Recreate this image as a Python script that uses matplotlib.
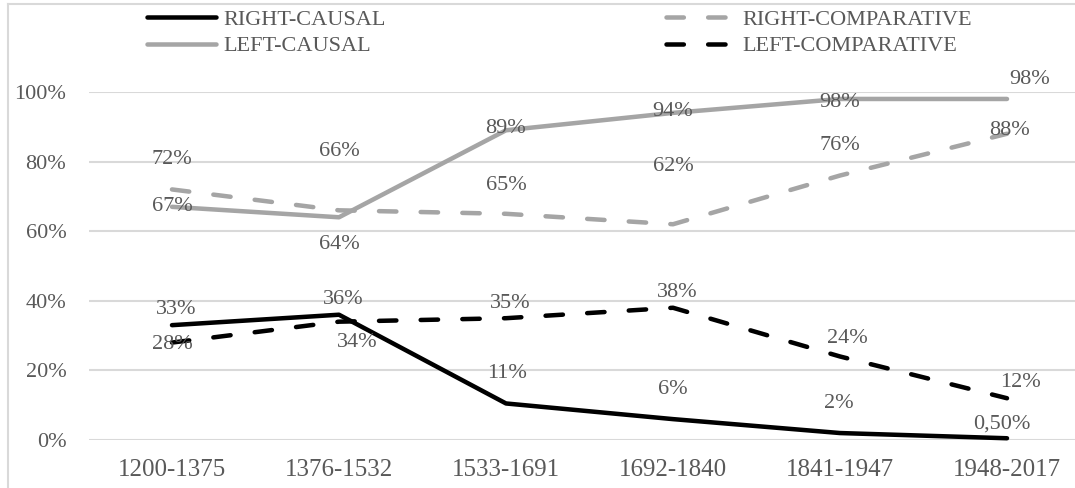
import matplotlib
matplotlib.use("Agg")
import matplotlib.pyplot as plt
from matplotlib.lines import Line2D

plt.rcParams['font.family'] = ['Liberation Serif', 'DejaVu Serif']
plt.rcParams['lines.scale_dashes'] = False

categories = ["1200-1375", "1376-1532", "1533-1691", "1692-1840", "1841-1947", "1948-2017"]
right_causal = [0.33, 0.36, 0.105, 0.06, 0.02, 0.005]
left_causal = [0.67, 0.64, 0.89, 0.94, 0.98, 0.98]
right_comparative = [0.72, 0.66, 0.65, 0.62, 0.76, 0.88]
left_comparative = [0.28, 0.34, 0.35, 0.38, 0.24, 0.12]

right_causal_labels = ["33%", "36%", "11%", "6%", "2%", "0,50%"]
left_causal_labels = ["67%", "64%", "89%", "94%", "98%", "98%"]
right_comparative_labels = ["72%", "66%", "65%", "62%", "76%", "88%"]
left_comparative_labels = ["28%", "34%", "35%", "38%", "24%", "12%"]

yticks = [0, 0.2, 0.4, 0.6, 0.8, 1.0]
ytick_labels = ["0%", "20%", "40%", "60%", "80%", "100%"]

# label offsets in pixels (dx, dy with y downward)
rc_off = [(4, -16), (4, -15), (1, -30), (0, -30), (-1, -30), (-5, -14)]
lc_off = [(0, 0), (0, 27), (0, -2), (0, -1), (0, 4), (23, -19)]
rcomp_off = [(0, -30), (0, -59), (0, -28), (0, -58), (0, -30), (3, -3)]
lcomp_off = [(0, 2), (18, 21), (4, -15), (4, -15), (7, -18), (13, -16)]

W, H = 1075, 488
fig = plt.figure(figsize=(W / 100, H / 100), dpi=100)
ax = fig.add_axes([88.5 / W, (H - 440) / H, 1002 / W, 348 / H])

BLACK = "#000000"
GRAY = "#A5A5A5"
TEXT = "#595959"
GRID = "#D9D9D9"

lw = 4.5 * 0.72
dash = (12.5, 17.5)
x = list(range(len(categories)))

l1, = ax.plot(x, right_causal, color=BLACK, lw=lw, solid_capstyle='round',
              solid_joinstyle='round', clip_on=False, label="RIGHT-CAUSAL", zorder=3)
l2, = ax.plot(x, left_causal, color=GRAY, lw=lw, solid_capstyle='round',
              solid_joinstyle='round', clip_on=False, label="LEFT-CAUSAL", zorder=3)
l3, = ax.plot(x, right_comparative, color=GRAY, lw=lw, dashes=dash, dash_capstyle='round',
              dash_joinstyle='round', clip_on=False, label="RIGHT-COMPARATIVE", zorder=3)
l4, = ax.plot(x, left_comparative, color=BLACK, lw=lw, dashes=dash, dash_capstyle='round',
              dash_joinstyle='round', clip_on=False, label="LEFT-COMPARATIVE", zorder=3)

for vals, labs, offs in [(right_causal, right_causal_labels, rc_off),
                         (left_causal, left_causal_labels, lc_off),
                         (right_comparative, right_comparative_labels, rcomp_off),
                         (left_comparative, left_comparative_labels, lcomp_off)]:
    for xi, v, s, (dx, dy) in zip(x, vals, labs, offs):
        ax.annotate(s, (xi, v), xytext=(dx * 0.72, -dy * 0.72), textcoords='offset points',
                    ha='center', va='center', fontsize=16, color=TEXT, zorder=4,
                    annotation_clip=False)

ax.set_xlim(-0.5, len(categories) - 0.5)
ax.set_ylim(0, 1.0)
ax.set_xticks(x)
ax.set_xticklabels(categories, fontsize=18, color=TEXT)
ax.set_yticks(yticks)
ax.set_yticklabels(ytick_labels, fontsize=16, color=TEXT)
ax.tick_params(axis='both', length=0)
ax.tick_params(axis='y', pad=16)
ax.tick_params(axis='x', pad=14)
for sp in ax.spines.values():
    sp.set_visible(False)
ax.grid(axis='y', color=GRID, lw=1.5)
ax.set_axisbelow(True)

leg = fig.legend(handles=[l1, l2, l3, l4], ncol=2, loc='upper left',
                 bbox_to_anchor=(147 / W, 1 - 9 / H), frameon=False, fontsize=16,
                 handlelength=3.1, handletextpad=0.35, columnspacing=12.6,
                 labelspacing=0.28, borderaxespad=0, borderpad=0)
for t in leg.get_texts():
    t.set_color(TEXT)

# outer chart-area border (left and top edges visible)
fig.add_artist(Line2D([8 / W, 8 / W], [0, 1 - 4 / H], transform=fig.transFigure,
                      color=GRID, lw=1.5))
fig.add_artist(Line2D([8 / W, 1], [1 - 4 / H, 1 - 4 / H], transform=fig.transFigure,
                      color=GRID, lw=1.5))

fig.savefig("out.png", dpi=100)
